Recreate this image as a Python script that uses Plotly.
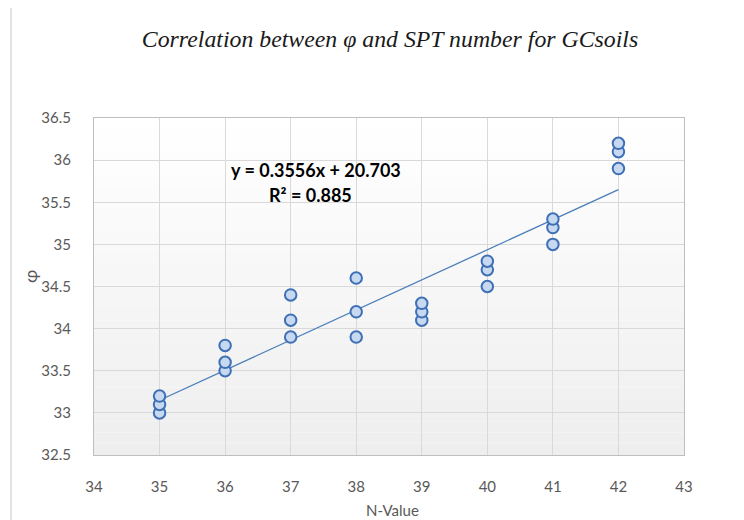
import numpy as np
import plotly.graph_objects as go

# Data
n_values = [35, 35, 35, 36, 36, 36, 37, 37, 37, 38, 38, 38,
            39, 39, 39, 40, 40, 40, 41, 41, 41, 42, 42, 42]
phi_values = [33.0, 33.1, 33.2, 33.5, 33.6, 33.8, 33.9, 34.1, 34.4, 33.9, 34.2, 34.6,
              34.1, 34.2, 34.3, 34.5, 34.7, 34.8, 35.0, 35.2, 35.3, 35.9, 36.1, 36.2]
x_ticks = [34, 35, 36, 37, 38, 39, 40, 41, 42, 43]
y_ticks = [32.5, 33, 33.5, 34, 34.5, 35, 35.5, 36, 36.5]
title_text = "Correlation between φ and SPT number for GCsoils"
eq_text = "y = 0.3556x + 20.703"
r2_text = "R² = 0.885"

# Linear trendline fitted to the data
slope, intercept = np.polyfit(n_values, phi_values, 1)
trend_x = np.array([min(n_values), max(n_values)])
trend_y = slope * trend_x + intercept

fig = go.Figure()
fig.add_trace(go.Scatter(
    x=trend_x, y=trend_y, mode="lines",
    line=dict(color="#4a7ebb", width=1.3),
    hoverinfo="skip", showlegend=False))
fig.add_trace(go.Scatter(
    x=n_values, y=phi_values, mode="markers",
    marker=dict(size=11.5, color="#c6d9f1", line=dict(color="#3f6fb5", width=2)),
    showlegend=False))

# Gradient plot background (white at top to light gray at bottom)
shapes = []
steps = 30
for i in range(steps):
    t = i / (steps - 1)
    g = int(round(255 - t * (255 - 238)))
    shapes.append(dict(type="rect", xref="x domain", yref="y domain",
                       x0=0, x1=1, y0=1 - (i + 1) / steps, y1=1 - i / steps,
                       fillcolor=f"rgb({g},{g},{g})", line=dict(width=0),
                       layer="below"))

# The page adds an 8px body margin, so the figure is drawn 8px smaller
W, H = 736, 512
L, T = 86, 110
PW, PH = 590, 337


def px_x(x):
    return (x - 8 - L) / PW


def px_y(y):
    return (T + PH - (y - 8)) / PH


# Outer chart border on the left
shapes.append(dict(type="line", xref="paper", yref="paper",
                   x0=px_x(11), x1=px_x(11), y0=-0.3, y1=1.5,
                   line=dict(color="#d9d9d9", width=1.5)))

fig.update_layout(
    width=W, height=H,
    margin=dict(l=L, r=W - L - PW, t=T, b=H - T - PH),
    paper_bgcolor="white", plot_bgcolor="rgba(0,0,0,0)",
    shapes=shapes,
    title=dict(text=f"<i>{title_text}</i>", xref="container",
               x=(390 - 8) / W, xanchor="center",
               y=1 - (39 - 8) / H, yanchor="middle",
               font=dict(family="Liberation Serif", size=23.8, color="#1a1a1a")),
    xaxis=dict(range=[34, 43], tickvals=x_ticks, showgrid=True,
               gridcolor="#d9d9d9", gridwidth=1, zeroline=False,
               showline=True, linecolor="#bfbfbf", linewidth=1, mirror=True,
               ticks="outside", ticklen=18, tickcolor="rgba(0,0,0,0)",
               tickfont=dict(family="Lato", size=15, color="#595959")),
    yaxis=dict(range=[32.5, 36.5], tickvals=y_ticks, showgrid=True,
               gridcolor="#d9d9d9", gridwidth=1, zeroline=False,
               showline=True, linecolor="#bfbfbf", linewidth=1, mirror=True,
               ticks="outside", ticklen=19, tickcolor="rgba(0,0,0,0)",
               tickfont=dict(family="Lato", size=15, color="#595959")),
    annotations=[
        dict(text=f"<b>{eq_text}</b>", xref="paper", yref="paper",
             x=px_x(316), y=px_y(170), showarrow=False,
             xanchor="center", yanchor="middle",
             font=dict(family="Lato", size=18, color="black")),
        dict(text=f"<b>{r2_text}</b>", xref="paper", yref="paper",
             x=px_x(310), y=px_y(195), showarrow=False,
             xanchor="center", yanchor="middle",
             font=dict(family="Lato", size=18, color="black")),
        dict(text="N-Value", xref="paper", yref="paper",
             x=px_x(392), y=px_y(510), showarrow=False,
             xanchor="center", yanchor="middle",
             font=dict(family="Lato", size=15, color="#595959")),
        dict(text="φ", xref="paper", yref="paper", textangle=-90,
             x=px_x(30), y=px_y(277), showarrow=False,
             xanchor="center", yanchor="middle",
             font=dict(family="Lato", size=18, color="#595959")),
    ],
)

fig.write_html("out.html")
